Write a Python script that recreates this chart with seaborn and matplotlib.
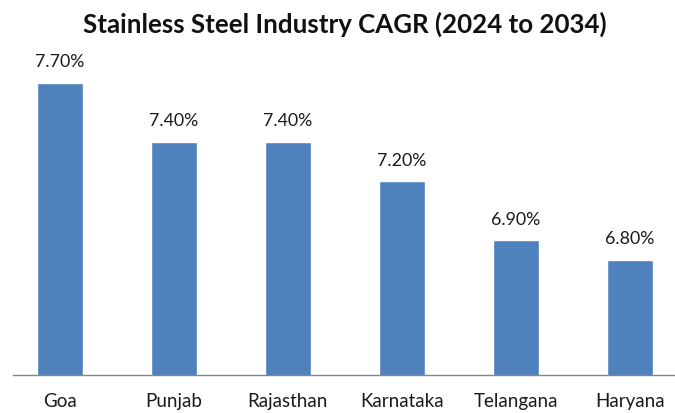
import matplotlib
matplotlib.use("Agg")
import matplotlib.pyplot as plt
import seaborn as sns
import pandas as pd

states = ["Goa", "Punjab", "Rajasthan", "Karnataka", "Telangana", "Haryana"]
cagr = [7.70, 7.40, 7.40, 7.20, 6.90, 6.80]
title = "Stainless Steel Industry CAGR (2024 to 2034)"

df = pd.DataFrame({"State": states, "CAGR": cagr})

sns.set_theme(style="white")
plt.rcParams["font.family"] = ["Lato", "DejaVu Sans"]

W, H = 675, 413
fig = plt.figure(figsize=(W / 100, H / 100), dpi=100)
ymin, ymax = 6.215, 7.9
base_px = 375
px_per_unit = 196.7
ax_h = (ymax - ymin) * px_per_unit
ax = fig.add_axes([13 / W, (H - base_px) / H, 1 - 13 / W, ax_h / H])

sns.barplot(data=df, x="State", y="CAGR", color="#4F81BD", saturation=1,
            width=0.40, ax=ax)

ax.set_ylim(ymin, ymax)
ax.set_xlim(-0.41, 5.395)

for i, v in enumerate(cagr):
    ax.annotate(f"{v:.2f}%", (i, v), xytext=(0, 9), textcoords="offset points",
                ha="center", va="bottom", fontsize=12.8, color="#1a1a1a")

for s in ["top", "right", "left"]:
    ax.spines[s].set_visible(False)
ax.spines["bottom"].set_color("#868686")
ax.spines["bottom"].set_linewidth(1.0)
ax.set_yticks([])
ax.set_xlabel("")
ax.set_ylabel("")
ax.tick_params(axis="x", length=0, pad=13, labelsize=13.5, labelcolor="#1a1a1a")

fig.text(345 / W, 1 - 24 / H, title, ha="center", va="center",
         fontsize=18.6, fontweight="bold", color="#111111")

fig.savefig("out.png", dpi=100)
